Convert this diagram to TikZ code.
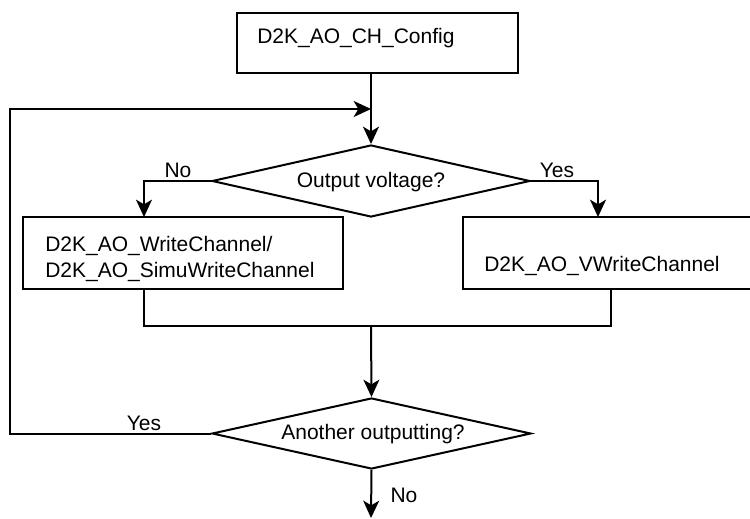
\documentclass[tikz,border=0pt]{standalone}
\usepackage{fontspec}
\setmainfont{Liberation Sans}
\usetikzlibrary{shapes.geometric,arrows.meta,calc}
\tikzset{
  lbl/.style={font=\fontsize{15.75}{19.5}\selectfont, inner sep=0pt},
  boxshape/.style={draw, line width=1.5pt, rectangle, inner sep=0pt},
  decshape/.style={draw, line width=1.5pt, diamond, inner sep=0pt},
  conn/.style={line width=1.5pt},
  arr/.style={conn, -{Stealth[length=13pt,width=12pt,inset=3.5pt]}},
}
\begin{document}
\begin{tikzpicture}[x=0.75pt,y=-0.75pt]
\useasboundingbox (0,0) rectangle (750,518);
\clip (0,0) rectangle (750,518);
% boxes
\node[boxshape, minimum width=281*0.75pt, minimum height=60*0.75pt] (cfg) at (377.5,43) {};
\node[lbl, anchor=west] (cfgt) at (257,38) {D2K\_AO\_CH\_Config};
\node[decshape, minimum width=318*0.75pt, minimum height=72*0.75pt] (d1) at (371,181) {};
\node[lbl] (d1t) at (371,182) {Output voltage?};
\node[boxshape, minimum width=320*0.75pt, minimum height=72*0.75pt] (lbox) at (183,253) {};
\node[lbl, anchor=west, align=left] (lboxt) at (45,259) {D2K\_AO\_WriteChannel/\\D2K\_AO\_SimuWriteChannel};
\node[boxshape, minimum width=320*0.75pt, minimum height=72*0.75pt] (rbox) at (623,253) {};
\node[lbl, anchor=west] (rboxt) at (484,266) {D2K\_AO\_VWriteChannel};
\node[decshape, minimum width=319*0.75pt, minimum height=71*0.75pt] (d2) at (371.5,433.5) {};
\node[lbl] (d2t) at (373,434) {Another outputting?};
% coordinates
\coordinate (noTop) at (144,217);
\coordinate (yesTop) at (598,217);
\coordinate (lBot) at (144,289);
\coordinate (rBot) at (611,289);
\coordinate (merge) at (371,326);
\coordinate (loopL) at (10,109);
\coordinate (join) at (371,109);
\coordinate (endp) at (371,518);
% connectors
\draw[arr] (d1.north |- cfg.south) -- (d1.north);
\draw[arr] (d1.west) -| (noTop);
\draw[arr] (d1.east) -| (yesTop);
\draw[conn] (lBot) |- (merge) -| (rBot);
\draw[arr] (merge) -- (d2.north);
\draw[arr] (d2.west) -| (loopL) -- (join);
\draw[arr] (d2.south) -- (endp);
% labels
\node[lbl] (lno1) at (178,170) {No};
\node[lbl] (lyes1) at (557,170) {Yes};
\node[lbl] (lyes2) at (144,423) {Yes};
\node[lbl] (lno2) at (404,495) {No};
\end{tikzpicture}
\end{document}
